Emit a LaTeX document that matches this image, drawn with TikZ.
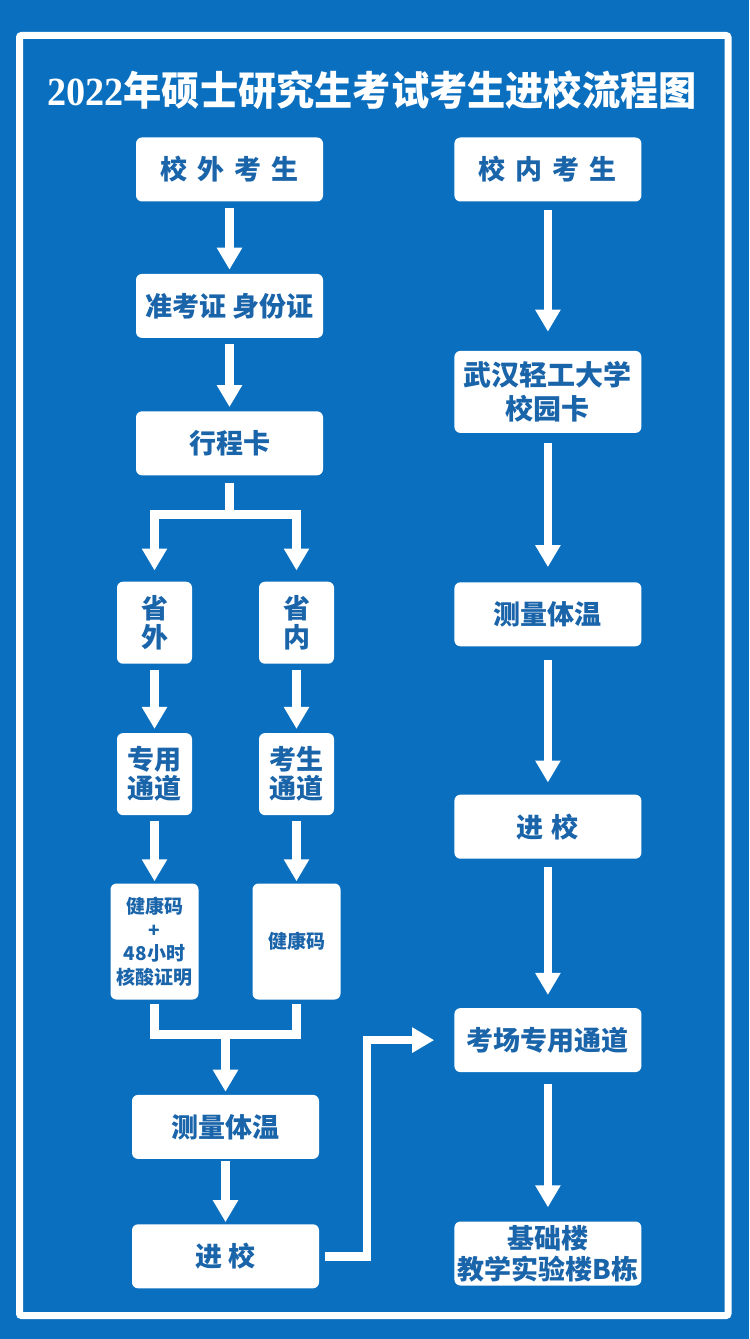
\documentclass[tikz,border=0pt]{standalone}
\usepackage{fontspec}
\usetikzlibrary{arrows.meta,positioning,calc}
\newfontfamily\cjk{Noto Sans CJK SC}
\newfontfamily\digits{Liberation Serif}[UprightFont={* Bold}]
\definecolor{sky}{HTML}{0A6FBF}
\definecolor{ink}{HTML}{1A64AA}
\tikzset{
  base/.style={font=\cjk\bfseries\fontsize{27bp}{29bp}\selectfont,align=center,rounded corners=6bp,fill=white,text=ink,inner sep=0pt,minimum width=187bp,minimum height=64bp},
  tall/.style={base,minimum width=75bp,minimum height=82bp},
  tiny/.style={base,font=\cjk\bfseries\fontsize{19bp}{23.5bp}\selectfont,minimum width=88bp,minimum height=116bp},
  link/.style={draw=white,line width=8.5bp},
  flow/.style={link,-{Triangle[width=24bp,length=22bp]},shorten <=6bp,shorten >=4bp},
  far/.style={flow,shorten <=8bp,shorten >=15bp}
}
\begin{document}
\begin{tikzpicture}[x=1bp,y=-1bp]
\fill[sky] (0,0) rectangle (749,1339);
\useasboundingbox (0,0) rectangle (749,1339);
\draw[white,line width=7bp,rounded corners=2bp] (19.5,35.5) rectangle (728,1315.5);
\node[font=\cjk\bfseries\fontsize{40bp}{44bp}\selectfont,text=white] (title) at (372,90) {\scalebox{0.955}[1]{{\digits 2022}年硕士研究生考试考生进校流程图}};

% outside candidates
\node[base] (outs) at (229.5,169.5) {校\hspace{10bp}外\hspace{10bp}考\hspace{10bp}生};
\node[base,below=72bp of outs] (ids) {准考证 身份证};
\node[base,below=73bp of ids] (trip) {行程卡};
\node[tall,below=106bp of trip,xshift=-75bp] (provout) {省\\外};
\node[tall,below=106bp of trip,xshift=67bp] (provin) {省\\内};
\node[tall,below=69bp of provout] (chanout) {专用\\通道};
\node[tall,below=69bp of provin] (chanin) {考生\\通道};
\node[tiny,below=68bp of chanout] (codeout) {健康码\\+\\48小时\\核酸证明};
\node[tiny,below=68bp of chanin] (codein) {健康码};
\node[base,below=95bp of codeout,xshift=71bp] (tempout) {测量体温};
\node[base,below=65bp of tempout] (enterout) {进\hspace{6bp}校};

% campus candidates
\node[base,right=131bp of outs] (ins) {校\hspace{10bp}内\hspace{10bp}考\hspace{10bp}生};
\node[base,below=149bp of ins,font=\cjk\bfseries\fontsize{28bp}{34bp}\selectfont,minimum height=82bp] (card) {武汉轻工大学\\校园卡};
\node[base,below=149bp of card] (tempin) {测量体温};
\node[base,below=148bp of tempin] (enterin) {进\hspace{8bp}校};
\node[base,below=149bp of enterin] (hall) {考场专用通道};
\node[base,below=149bp of hall,font=\cjk\bfseries\fontsize{27bp}{31bp}\selectfont] (bldg) {基础楼\\教学实验楼B栋};

\coordinate (fork) at ($(trip.south)+(0,-39bp)$);
\coordinate (merge) at ($(tempout.north)+(0,60bp)$);

\draw[flow] (outs) -- (ids);
\draw[flow] (ids) -- (trip);
\draw[link,shorten <=7bp] (trip) -- (fork);
\draw[flow,shorten <=0bp,shorten >=11bp] (fork) -| (provout);
\draw[flow,shorten <=0bp,shorten >=11bp] (fork) -| (provin);
\draw[flow] (provout) -- (chanout);
\draw[flow] (provin) -- (chanin);
\draw[flow,shorten >=2bp] (chanout) -- (codeout);
\draw[flow,shorten >=2bp] (chanin) -- (codein);
\draw[link,shorten <=4bp,shorten >=4bp] (codeout.south) |- (merge) -| (codein.south);
\draw[flow,shorten <=0bp,shorten >=3bp] (merge) -- (tempout);
\draw[flow,shorten <=2bp,shorten >=2bp] (tempout) -- (enterout);
\draw[flow,shorten >=20bp] (enterout.east) -- ++(48bp,0) |- (hall);

\draw[far,shorten >=19bp] (ins) -- (card);
\draw[far,shorten <=10bp] (card) -- (tempin);
\draw[far,shorten <=13bp,shorten >=12bp] (tempin) -- (enterin);
\draw[far,shorten >=13bp] (enterin) -- (hall);
\draw[far,shorten <=12bp,shorten >=14bp] (hall) -- (bldg);
\end{tikzpicture}
\end{document}
